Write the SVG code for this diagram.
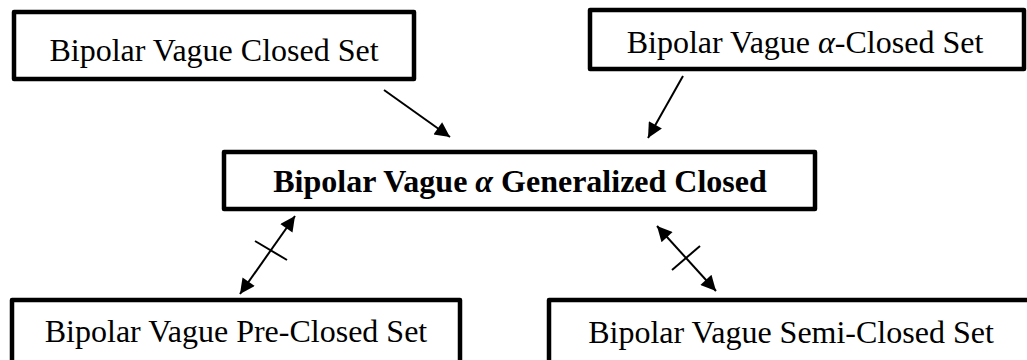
<svg xmlns="http://www.w3.org/2000/svg" width="1027" height="360" viewBox="0 0 1027 360">
<style>
.box{fill:#fff;stroke:#000;stroke-width:4.5;stroke-linejoin:round}
.t{font-family:"Liberation Serif","Times New Roman",serif;font-size:32px;fill:#000;text-anchor:middle}
.b{font-weight:bold}
.a{font-style:italic}
.ln{stroke:#000;stroke-width:2;fill:none}
</style>
<defs>
<marker id="ah" viewBox="0 0 10 10" refX="10" refY="5" markerWidth="9" markerHeight="7.5" markerUnits="strokeWidth" orient="auto-start-reverse">
<path d="M0,0 L10,5 L0,10 z" fill="#000"/>
</marker>
</defs>
<rect width="1027" height="360" fill="#fff"/>
<g id="n1"><rect class="box" x="14" y="12" width="400" height="67"/><text class="t" x="214" y="61">Bipolar Vague Closed Set</text></g>
<g id="n2"><rect class="box" x="590" y="10" width="434" height="59"/><text class="t" x="805" y="53">Bipolar Vague <tspan class="a">α</tspan>-Closed Set</text></g>
<g id="n3"><rect class="box" x="224" y="152" width="591" height="57"/><text class="t b" x="520" y="192">Bipolar Vague <tspan class="a">α</tspan> Generalized Closed</text></g>
<g id="n4"><rect class="box" x="12" y="300" width="448" height="70"/><text class="t" x="236" y="342">Bipolar Vague Pre-Closed Set</text></g>
<g id="n5"><rect class="box" x="549" y="300" width="490" height="70"/><text class="t" x="791" y="343">Bipolar Vague Semi-Closed Set</text></g>
<g id="connectors">
<line class="ln" x1="384" y1="90" x2="450" y2="137" marker-end="url(#ah)"/>
<line class="ln" x1="683" y1="76" x2="648" y2="138" marker-end="url(#ah)"/>
<line class="ln" x1="295" y1="216" x2="240" y2="294" marker-start="url(#ah)" marker-end="url(#ah)"/>
<line class="ln" x1="255" y1="241" x2="287" y2="260"/>
<line class="ln" x1="657" y1="226" x2="716" y2="291" marker-start="url(#ah)" marker-end="url(#ah)"/>
<line class="ln" x1="672" y1="270" x2="700" y2="246"/>
</g>
</svg>
